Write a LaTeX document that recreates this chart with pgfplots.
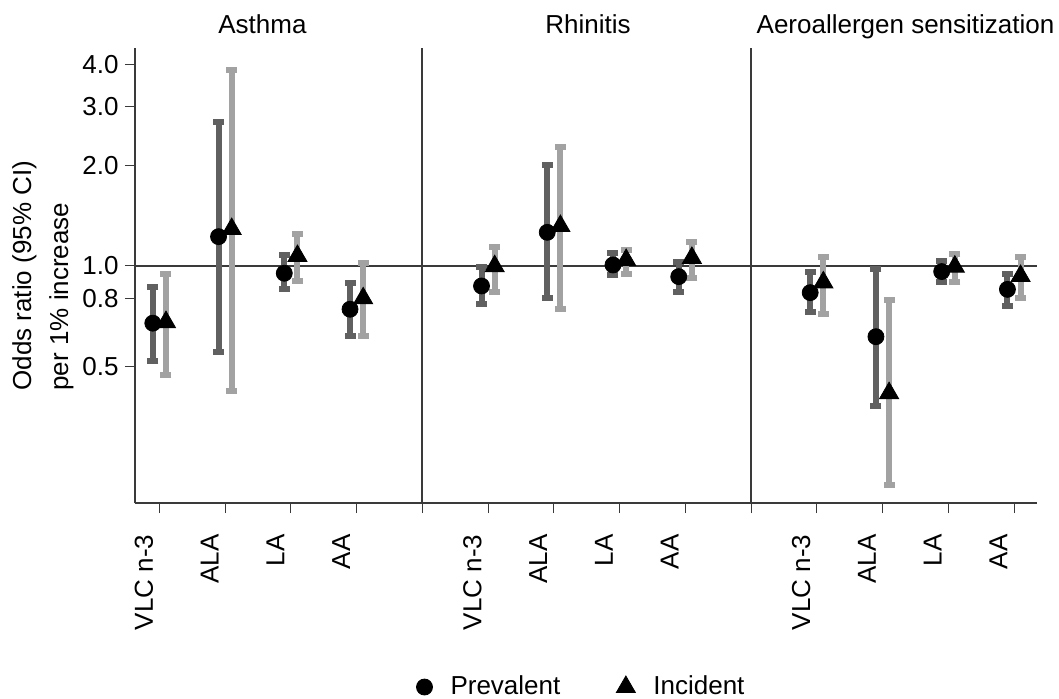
\documentclass[border=0pt]{standalone}
\usepackage{fontspec}
\setmainfont{Liberation Sans}
\usepackage{pgfplots}
\pgfplotsset{compat=1.18}
\definecolor{cidark}{HTML}{606060}
\definecolor{cilight}{HTML}{A2A2A2}
\definecolor{axgray}{HTML}{3A3A3A}
\begin{document}
\begin{tikzpicture}[font=\fontsize{13}{15.6}\selectfont]
\begin{axis}[
  at={(0,0)}, anchor=south west,
  scale only axis, width=451pt, height=227.65pt,
  xmin=0.629, xmax=14.35,
  ymode=log, ymin=0.1946, ymax=4.496,
  axis lines*=left,
  axis line style={axgray, line width=0.85pt},
  tick align=outside,
  major tick length=5pt,
  major tick style={axgray, line width=0.5pt},
  yminorticks=false, xminorticks=false,
  xtick={1,2,3,4,5,6,7,8,9,10,11,12,13,14},
  xticklabels={VLC n-3,ALA,LA,AA,,VLC n-3,ALA,LA,AA,,VLC n-3,ALA,LA,AA},
  xticklabel style={xshift=-3.3pt, yshift=-10.5pt, rotate=90, anchor=base east, inner sep=0pt},
  ytick={0.5,0.8,1,2,3,4},
  yticklabels={0.5,0.8,1.0,2.0,3.0,4.0},
  yticklabel style={inner sep=0pt, xshift=-3pt},
  /pgf/number format/assume math mode=true,
  ylabel={Odds ratio (95\% CI)\\per 1\% increase},
  ylabel style={align=left, font=\fontsize{13}{18.5}\selectfont, at={(axis description cs:-0.1364,0.5)}, anchor=north, inner sep=0pt},
  clip=false,
  legend columns=2,
  legend style={draw=none, fill=none, at={(axis description cs:0.4961,0)}, anchor=center, yshift=-91.85pt,
    /tikz/every odd column/.append style={column sep=7pt},
    /tikz/every even column/.append style={column sep=26pt}},
  cipr/.style={cidark, line width=3pt, mark=-, mark options={solid, line width=3pt, mark size=2.75pt}, unbounded coords=jump, forget plot},
  ciin/.style={cilight, line width=3pt, mark=-, mark options={solid, line width=3pt, mark size=2.75pt}, unbounded coords=jump, forget plot},
]
% reference lines
\addplot[axgray, line width=0.9pt, forget plot] coordinates {(0.629,1) (14.35,1)};
\addplot[axgray, line width=0.9pt, forget plot] coordinates {(5,0.1946) (5,4.496)};
\addplot[axgray, line width=0.9pt, forget plot] coordinates {(10,0.1946) (10,4.496)};
% prevalent CIs
\addplot[cipr] coordinates {
 (0.9,0.520) (0.9,0.863) (0.9,nan)
 (1.9,0.551) (1.9,2.705) (1.9,nan)
 (2.9,0.851) (2.9,1.079) (2.9,nan)
 (3.9,0.619) (3.9,0.888) (3.9,nan)
 (5.9,0.769) (5.9,0.995) (5.9,nan)
 (6.9,0.800) (6.9,2.000) (6.9,nan)
 (7.9,0.940) (7.9,1.091) (7.9,nan)
 (8.9,0.838) (8.9,1.026) (8.9,nan)
 (10.9,0.730) (10.9,0.957) (10.9,nan)
 (11.9,0.381) (11.9,0.977) (11.9,nan)
 (12.9,0.897) (12.9,1.035) (12.9,nan)
 (13.9,0.759) (13.9,0.944)
};
% incident CIs
\addplot[ciin] coordinates {
 (1.1,0.471) (1.1,0.944) (1.1,nan)
 (2.1,0.422) (2.1,3.860) (2.1,nan)
 (3.1,0.904) (3.1,1.247) (3.1,nan)
 (4.1,0.619) (4.1,1.019) (4.1,nan)
 (6.1,0.838) (6.1,1.142) (6.1,nan)
 (7.1,0.742) (7.1,2.270) (7.1,nan)
 (8.1,0.946) (8.1,1.117) (8.1,nan)
 (9.1,0.919) (9.1,1.183) (9.1,nan)
 (11.1,0.718) (11.1,1.066) (11.1,nan)
 (12.1,0.221) (12.1,0.791) (12.1,nan)
 (13.1,0.897) (13.1,1.084) (13.1,nan)
 (14.1,0.800) (14.1,1.062)
};
% point estimates
\addplot[only marks, mark=*, mark size=4pt, black] coordinates {
 (0.9,0.674) (1.9,1.224) (2.9,0.951) (3.9,0.742)
 (5.9,0.871) (6.9,1.261) (7.9,1.007) (8.9,0.929)
 (10.9,0.832) (11.9,0.614) (12.9,0.962) (13.9,0.851)
};
\addlegendentry{Prevalent}
\addplot[only marks, mark=triangle*, mark size=5.5pt, black] coordinates {
 (1.1,0.679) (2.1,1.290) (3.1,1.071) (4.1,0.800)
 (6.1,0.998) (7.1,1.317) (8.1,1.042) (9.1,1.057)
 (11.1,0.893) (12.1,0.416) (13.1,0.995) (14.1,0.933)
};
\addlegendentry{Incident}
% panel titles
\node[anchor=base, yshift=7.5pt] at (axis cs:2.568,4.496) {Asthma};
\node[anchor=base, yshift=7.5pt] at (axis cs:7.52,4.496) {Rhinitis};
\node[anchor=base, yshift=7.5pt] at (axis cs:12.35,4.496) {Aeroallergen sensitization};
\end{axis}
\pgfresetboundingbox
\path (-67.5pt,-97.35pt) rectangle (462pt,251.65pt);
\end{tikzpicture}
\end{document}
